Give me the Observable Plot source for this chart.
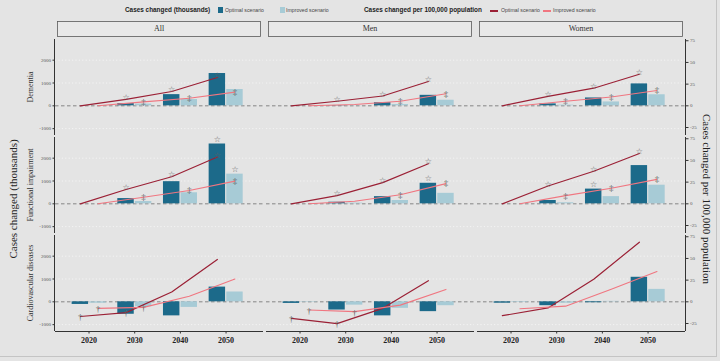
<!DOCTYPE html>
<html><head><meta charset="utf-8">
<script src="https://cdn.jsdelivr.net/npm/d3@7"></script>
<script src="https://cdn.jsdelivr.net/npm/@observablehq/plot@0.6"></script>
<style>
body{margin:0;background:#e4e4e4;}
#wrap{position:relative;width:720px;height:361px;overflow:hidden;background:#e4e4e4;}
#frame{position:absolute;left:0;top:0;width:716px;height:356px;border-right:1px solid #c4c4c4;border-bottom:1px solid #c4c4c4;pointer-events:none;}
#legend{position:absolute;left:0;top:0;width:720px;height:19px;font-family:"Liberation Sans",Arial,sans-serif;color:#222;}
#legend span{position:absolute;white-space:nowrap;line-height:1;}
#legend .b{font-weight:bold;font-size:6.4px;top:7px;}
#legend .n{font-size:5.2px;top:7.6px;color:#444;}
#legend .sq{width:5px;height:6px;top:7px;}
#legend .ln{width:8px;height:1.5px;top:10px;}
#chart{position:absolute;left:0;top:19px;}
</style></head>
<body><div id="wrap">
<div id="legend">
  <span class="b" style="left:125px">Cases changed (thousands)</span>
  <span class="sq" id="sqOpt" style="left:218px"></span>
  <span class="n" style="left:225px">Optimal scenario</span>
  <span class="sq" id="sqImp" style="left:280px"></span>
  <span class="n" style="left:286px">Improved scenario</span>
  <span class="b" style="left:364px">Cases changed per 100,000 population</span>
  <span class="ln" id="lnOpt" style="left:490px"></span>
  <span class="n" style="left:501px">Optimal scenario</span>
  <span class="ln" id="lnImp" style="left:543px"></span>
  <span class="n" style="left:553px">Improved scenario</span>
</div>
<div id="chart"></div>
<div id="frame"></div>
</div>
<script>
// ---------- data ----------
const sexes = ["All", "Men", "Women"];
const diseases = ["Dementia", "Functional impairment", "Cardiovascular diseases"];
const years = [2020, 2030, 2040, 2050];
const leftTicks = [-1000, 0, 1000, 2000];
const rightTicks = [-25, 0, 25, 50, 75];

// Cases changed (thousands), rows: All, Men, Women
const dementiaCasesOptimal = [[0, 100, 490, 1415], [0, 10, 140, 460], [0, 85, 345, 960]];
const dementiaCasesImproved = [[0, 75, 275, 715], [0, 5, 55, 245], [0, 30, 170, 485]];
const functionalCasesOptimal = [[0, 230, 970, 2620], [0, 70, 315, 900], [0, 145, 645, 1675]];
const functionalCasesImproved = [[0, 100, 485, 1300], [0, 30, 145, 460], [0, 45, 315, 815]];
const cardioCasesOptimal = [[-115, -545, -615, 645], [-70, -360, -615, -430], [-60, -170, -40, 1075]];
const cardioCasesImproved = [[-60, -215, -245, 430], [-20, -145, -285, -170], [-25, -60, 20, 545]];

// Cases changed per 100,000 population
const dementiaRateOptimal = [[0, 7.5, 16.5, 32.7], [0, 5.3, 11.3, 28], [0, 10.9, 20.3, 36.4]];
const dementiaRateImproved = [[0, 4.5, 8.7, 15.8], [0, 1.5, 5.3, 14], [0, 5.3, 10.1, 17.7]];
const functionalRateOptimal = [[0, 16.5, 31.2, 54], [0, 9.4, 24.4, 46.2], [0, 20.6, 37.5, 58]];
const functionalRateImproved = [[0, 7.5, 15.4, 26.2], [0, 3, 10.5, 23.3], [0, 9.4, 18, 28.2]];
const cardioRateOptimal = [[-16.9, -12.4, 11.3, 48.8], [-19.1, -25.1, -7.5, 24.4], [-16, -7, 26, 68.7]];
const cardioRateImproved = [[-7.5, -6.4, 6.4, 26.3], [-9.4, -11.3, -3.8, 14.3], [-8, -5, 14.6, 34.9]];

const K = 38; // thousands per 1 case/100,000 on the secondary axis
const colOpt = "#1c6a8a", colImp = "#a7cbd6", lineOpt = "#9b2035", lineImp = "#f07680";
const markCol = "#626262";

document.getElementById("sqOpt").style.background = colOpt;
document.getElementById("sqImp").style.background = colImp;
document.getElementById("lnOpt").style.background = lineOpt;
document.getElementById("lnImp").style.background = lineImp;

function build(tables, scen) {
  const out = [];
  tables.forEach((t, di) => t.forEach((arr, si) => arr.forEach((v, yi) =>
    out.push({disease: diseases[di], sex: sexes[si], year: years[yi], scen, value: v}))));
  return out;
}
const casesOpt = build([dementiaCasesOptimal, functionalCasesOptimal, cardioCasesOptimal], "opt");
const casesImp = build([dementiaCasesImproved, functionalCasesImproved, cardioCasesImproved], "imp");
const rateOpt = build([dementiaRateOptimal, functionalRateOptimal, cardioRateOptimal], "opt");
const rateImp = build([dementiaRateImproved, functionalRateImproved, cardioRateImproved], "imp");

const sigRows = ["Dementia", "Functional impairment"];
const rateOf = d => [...rateOpt, ...rateImp].find(r => r.disease === d.disease && r.sex === d.sex && r.year === d.year && r.scen === d.scen).value * K;
const barStars = [...casesOpt, ...casesImp]
  .filter(d => sigRows.includes(d.disease) && d.year >= 2040 && d.value >= 250)
  .filter(d => Math.abs(d.value + 250 - rateOf(d)) > 500);
const optMarks = rateOpt.filter(d => sigRows.includes(d.disease) && d.year >= 2030 && d.value > 5);
const impMarks = rateImp.filter(d => sigRows.includes(d.disease) && d.year >= 2030 && d.value > 3);
const cvdMarks = [...rateOpt, ...rateImp]
  .filter(d => d.disease === "Cardiovascular diseases" && d.sex !== "Women" && d.year <= 2030);
const off = d => d.scen === "opt" ? -1.9 : 1.95;

const W = 720, H = 342;
const facet = {fx: "sex", fy: "disease"};
const plot = Plot.plot({
  width: W, height: H,
  marginTop: 19, marginBottom: 28, marginLeft: 54, marginRight: 33,
  style: {background: "transparent", fontFamily: "Liberation Serif, serif", overflow: "visible"},
  fx: {domain: sexes, paddingInner: 0.012, paddingOuter: 0, axis: null},
  fy: {domain: diseases, paddingInner: 0.02, paddingOuter: 0, axis: null},
  x: {domain: [2012.66, 2058.2]},
  y: {domain: [-1300, 2905]},
  marks: [
    Plot.ruleY([-1000, 1000, 2000], {stroke: "#f6f6f6", strokeDasharray: "1.2,2.2", strokeWidth: 0.9}),
    Plot.ruleY([0], {stroke: "#858585", strokeDasharray: "3.5,2.5", strokeWidth: 1}),
    Plot.rect(casesOpt, {...facet, x1: d => d.year - 3.7, x2: d => d.year - 0.1, y1: d => 0, y2: "value", fill: colOpt}),
    Plot.rect(casesImp, {...facet, x1: d => d.year + 0.15, x2: d => d.year + 3.75, y1: d => 0, y2: "value", fill: colImp}),
    Plot.text(barStars, {...facet, x: d => d.year + off(d), y: "value", text: d => "☆", dy: -5,
      fontSize: 8, fill: markCol, fontFamily: "DejaVu Sans"}),
    Plot.line(rateOpt, {...facet, x: d => d.year + off(d), y: d => d.value * K, stroke: lineOpt, strokeWidth: 1.2}),
    Plot.line(rateImp, {...facet, x: d => d.year + off(d), y: d => d.value * K, stroke: lineImp, strokeWidth: 1.1}),
    Plot.text(optMarks, {...facet, x: d => d.year + off(d), y: d => d.value * K, text: d => "☆", dy: -2,
      fontSize: 8, fill: markCol, fontFamily: "DejaVu Sans"}),
    Plot.text(impMarks, {...facet, x: d => d.year + off(d), y: d => d.value * K, text: d => "‡", dy: 0,
      fontSize: 9, fill: markCol}),
    Plot.text(cvdMarks, {...facet, x: d => d.year + off(d), y: d => d.value * K, text: d => "†", dy: 1,
      fontSize: 9, fill: markCol}),
    Plot.axisY({anchor: "left", ticks: leftTicks, tickSize: 2.5, tickPadding: 2, fontSize: 5, fill: "#555",
      stroke: "#333", tickFormat: d => String(d), label: null}),
    Plot.axisY({anchor: "right", ticks: rightTicks.map(v => v * K), tickSize: 2.5, tickPadding: 2, fontSize: 5,
      fill: "#555", stroke: "#333", tickFormat: v => String(Math.round(v / K)), label: null}),
    Plot.axisX({anchor: "bottom", ticks: years, tickSize: 2.5, tickPadding: 3, fontSize: 8, fontWeight: "bold",
      fill: "#222", stroke: "#333", tickFormat: d => String(d), label: null})
  ]
});
document.getElementById("chart").appendChild(plot);

// ---------- decorations placed with the facet scales ----------
const fx = plot.scale("fx"), fy = plot.scale("fy");
const bw = fx.bandwidth, bh = fy.bandwidth;
const svg = d3.select(plot);
const g = svg.append("g").attr("font-family", "Liberation Serif, serif");
// strips
sexes.forEach(s => {
  const x0 = fx.apply(s);
  g.append("rect").attr("x", x0 + 2.5).attr("y", 2.5).attr("width", bw - 5).attr("height", 15)
    .attr("fill", "#e8e8e8").attr("stroke", "#5a5a5a").attr("stroke-width", 0.8);
  g.append("text").attr("x", x0 + bw / 2).attr("y", 10.3).attr("text-anchor", "middle")
    .attr("dominant-baseline", "middle").attr("font-size", 8).attr("fill", "#333").text(s);
});
// axis lines and row labels
const firstX = fx.apply(sexes[0]), lastX = fx.apply(sexes[sexes.length - 1]) + bw;
diseases.forEach(dz => {
  const y0 = fy.apply(dz);
  g.append("line").attr("x1", firstX - 0.5).attr("x2", firstX - 0.5).attr("y1", y0).attr("y2", y0 + bh)
    .attr("stroke", "#333").attr("stroke-width", 1);
  g.append("line").attr("x1", lastX + 0.5).attr("x2", lastX + 0.5).attr("y1", y0).attr("y2", y0 + bh)
    .attr("stroke", "#333").attr("stroke-width", 1);
  g.append("text").attr("transform", `translate(31,${y0 + bh / 2}) rotate(-90)`).attr("text-anchor", "middle")
    .attr("dominant-baseline", "middle").attr("font-size", 8).attr("fill", "#333").text(dz);
});
const yb = fy.apply(diseases[diseases.length - 1]) + bh;
sexes.forEach(s => {
  const x0 = fx.apply(s);
  g.append("line").attr("x1", x0).attr("x2", x0 + bw).attr("y1", yb + 0.5).attr("y2", yb + 0.5)
    .attr("stroke", "#333").attr("stroke-width", 1);
});
// axis titles
const midY = (fy.apply(diseases[0]) + yb) / 2 + 14;
g.append("text").attr("transform", `translate(14,${midY}) rotate(-90)`).attr("text-anchor", "middle")
  .attr("dominant-baseline", "middle").attr("font-size", 11).attr("fill", "#222").text("Cases changed (thousands)");
g.append("text").attr("transform", `translate(706,${midY}) rotate(90)`).attr("text-anchor", "middle")
  .attr("dominant-baseline", "middle").attr("font-size", 11).attr("fill", "#222").text("Cases changed per 100,000 population");
</script>
</body></html>
